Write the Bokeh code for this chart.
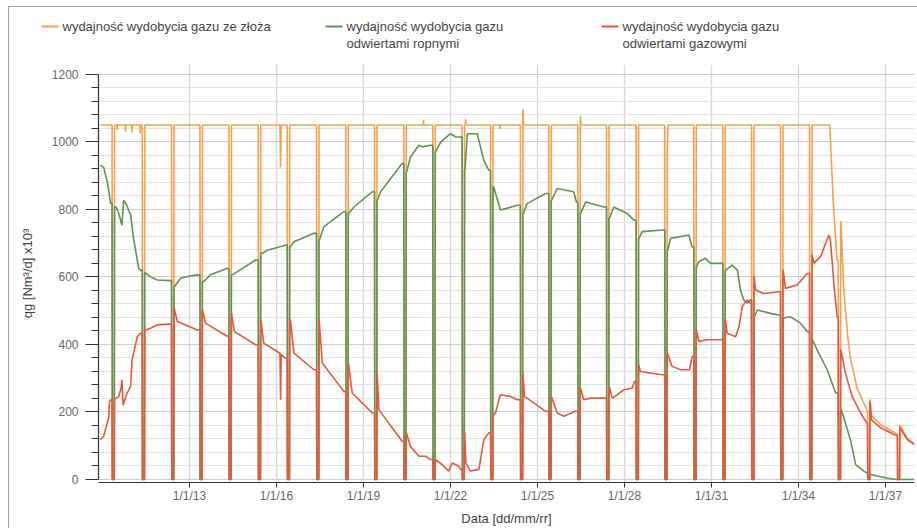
from bokeh.plotting import figure
from bokeh.models import FixedTicker, Range1d
from bokeh.layouts import column
from bokeh.core.properties import value
from bokeh.embed import file_html
from bokeh.resources import INLINE

# ---------------- data (years as decimal, values in Nm3/d x10^3) ----------------
shutdowns = [2010.33, 2011.37, 2012.38, 2013.36, 2014.36, 2015.37, 2016.37, 2017.38,
             2018.39, 2019.38, 2020.39, 2021.39, 2022.40, 2023.38, 2024.41, 2025.39,
             2026.39, 2027.38, 2028.40, 2029.39, 2030.39, 2031.39, 2032.38, 2033.38,
             2034.38, 2035.37, 2036.38, 2037.41]

orange_t = [2009.93, 2010.30,
            2010.45, 2010.50, 2010.51, 2010.52, 2010.78, 2010.79, 2010.80, 2011.01, 2011.02, 2011.03, 2011.29, 2011.30, 2011.31,
            2011.46, 2012.36, 2012.47, 2013.34, 2013.45, 2014.34, 2014.45, 2015.35,
            2015.46, 2016.12, 2016.14, 2016.16, 2016.35,
            2016.46, 2017.36, 2017.47, 2018.37, 2018.48, 2019.36, 2019.47, 2020.37,
            2020.48, 2021.06, 2021.07, 2021.08, 2021.37, 2021.48, 2022.38,
            2022.49, 2022.51, 2022.52, 2022.53, 2023.36,
            2023.47, 2023.70, 2023.71, 2023.72, 2024.39,
            2024.50, 2024.52, 2025.37, 2025.48, 2026.37, 2026.48, 2026.50, 2027.36,
            2027.47, 2028.38, 2028.49, 2029.37, 2029.48, 2029.50, 2030.37,
            2030.48, 2031.37, 2031.48, 2032.36, 2032.47, 2033.36, 2033.47, 2034.36,
            2034.47, 2035.08, 2035.20, 2035.33,
            2035.46, 2035.56, 2035.69, 2035.79, 2036.02, 2036.36,
            2036.47, 2036.51, 2036.83, 2037.29, 2037.39,
            2037.50, 2037.75, 2038.0]
orange_v = [1050, 1050,
            1050, 1050, 1035, 1050, 1050, 1030, 1050, 1050, 1028, 1050, 1050, 1025, 1050,
            1050, 1050, 1050, 1050, 1050, 1050, 1050, 1050,
            1050, 1050, 925, 1050, 1050,
            1050, 1050, 1050, 1050, 1050, 1050, 1050, 1050,
            1050, 1050, 1065, 1050, 1050, 1050, 1050,
            1050, 1050, 1068, 1050, 1050,
            1050, 1050, 1038, 1050, 1050,
            1095, 1050, 1050, 1050, 1050, 1075, 1050, 1050,
            1050, 1050, 1050, 1050, 985, 1050, 1050,
            1050, 1050, 1050, 1050, 1050, 1050, 1050, 1050,
            1050, 1050, 820, 650,
            765, 560, 430, 360, 270, 205,
            236, 190, 162, 140, 135,
            160, 122, 105]

green_t = [2009.93, 2010.04, 2010.17, 2010.28,
           2010.47, 2010.56, 2010.67, 2010.73, 2010.82, 2010.97, 2011.08, 2011.25, 2011.31,
           2011.48, 2011.66, 2011.89, 2012.32,
           2012.48, 2012.69, 2012.97, 2013.27,
           2013.49, 2013.72, 2014.28,
           2014.47, 2014.64, 2015.28,
           2015.51, 2015.68, 2016.31,
           2016.48, 2016.60, 2017.29,
           2017.48, 2017.63, 2018.32,
           2018.49, 2018.67, 2019.30,
           2019.48, 2019.59, 2020.33,
           2020.49, 2020.62, 2020.91, 2021.03, 2021.31,
           2021.49, 2021.66, 2022.00, 2022.17, 2022.34,
           2022.50, 2022.58, 2022.92, 2023.15, 2023.32,
           2023.49, 2023.72, 2024.30,
           2024.51, 2024.64, 2025.28,
           2025.49, 2025.68, 2026.25, 2026.34,
           2026.49, 2026.66, 2027.29,
           2027.48, 2027.63, 2028.09, 2028.32,
           2028.50, 2028.61, 2029.30,
           2029.49, 2029.59, 2030.22, 2030.33,
           2030.49, 2030.56, 2030.79, 2030.97, 2031.31,
           2031.49, 2031.71, 2031.89, 2032.00, 2032.11, 2032.23, 2032.34,
           2032.48, 2032.58, 2033.03, 2033.32,
           2033.49, 2033.72, 2034.07, 2034.30,
           2034.48, 2034.64, 2034.99, 2035.28,
           2035.47, 2035.62, 2035.79, 2035.97, 2036.25, 2036.34,
           2036.48, 2036.83, 2037.17, 2037.39,
           2037.51, 2038.0]
green_v = [930, 925, 880, 818,
           807, 788, 753, 827, 815, 783, 709, 625, 620,
           612, 600, 591, 589,
           571, 596, 602, 606,
           586, 606, 625,
           606, 615, 650,
           670, 679, 694,
           689, 704, 729,
           709, 748, 793,
           788, 807, 852,
           827, 852, 936,
           911, 955, 990, 985, 990,
           970, 999, 1024, 1015, 1014,
           916, 1024, 1024, 945, 916,
           866, 798, 812,
           788, 817, 847,
           827, 862, 852, 822,
           788, 822, 807,
           773, 807, 788, 768,
           714, 734, 739,
           679, 714, 724, 689,
           630, 645, 655, 640, 640,
           620, 635, 620, 561, 532, 522, 532,
           482, 502, 492, 487,
           478, 482, 463, 438,
           414, 384, 325, 256,
           207, 167, 118, 44, 25, 20,
           15, 8, 2, 0,
           0, 0]

red_t = [2009.93, 2010.04, 2010.14, 2010.22, 2010.24, 2010.28,
         2010.43, 2010.56, 2010.64, 2010.67, 2010.71, 2010.85, 2010.97, 2011.02, 2011.20, 2011.31,
         2011.48, 2011.66, 2011.89, 2012.32,
         2012.47, 2012.58, 2013.27,
         2013.45, 2013.55, 2014.28,
         2014.45, 2014.55, 2015.28,
         2015.46, 2015.56, 2016.12, 2016.14, 2016.16, 2016.31,
         2016.48, 2016.60, 2017.29,
         2017.47, 2017.58, 2018.32,
         2018.48, 2018.61, 2019.30,
         2019.47, 2019.53, 2020.33,
         2020.48, 2020.62, 2020.91, 2021.14, 2021.31,
         2021.48, 2021.71, 2021.94, 2022.06, 2022.29, 2022.34,
         2022.49, 2022.53, 2022.69, 2022.98, 2023.15, 2023.32,
         2023.49, 2023.55, 2023.72, 2024.07, 2024.30,
         2024.50, 2024.55, 2025.28,
         2025.48, 2025.68, 2025.91, 2026.31,
         2026.48, 2026.59, 2026.83, 2027.29,
         2027.47, 2027.58, 2027.75, 2027.98, 2028.27, 2028.34,
         2028.49, 2028.55, 2029.30,
         2029.48, 2029.64, 2029.93, 2030.24, 2030.33,
         2030.48, 2030.56, 2030.85, 2031.31,
         2031.48, 2031.54, 2031.83, 2031.95, 2032.06, 2032.23, 2032.34,
         2032.47, 2032.52, 2032.80, 2033.32,
         2033.47, 2033.55, 2033.95, 2034.30,
         2034.47, 2034.53, 2034.76, 2035.05, 2035.10, 2035.22, 2035.33,
         2035.46, 2035.62, 2035.85, 2036.14, 2036.36,
         2036.47, 2036.51, 2036.83, 2037.29, 2037.39,
         2037.50, 2037.75, 2038.0]
red_v = [118, 128, 160, 187, 230, 236,
         238, 246, 270, 295, 221, 256, 276, 354, 423, 433,
         443, 448, 458, 460,
         507, 468, 443,
         502, 463, 425,
         492, 438, 399,
         473, 404, 374, 236, 370, 359,
         473, 374, 325,
         473, 345, 261,
         345, 256, 197,
         315, 207, 113,
         138, 98, 69, 69, 59,
         59, 44, 25, 49, 39, 30,
         138, 49, 25, 30, 118, 138,
         192, 197, 251, 246, 236,
         315, 246, 202,
         246, 197, 187, 202,
         271, 236, 241, 241,
         276, 241, 251, 266, 271, 290,
         340, 320, 310,
         374, 335, 325, 325, 364,
         443, 409, 414, 414,
         473, 433, 423, 453, 512, 532, 522,
         601, 561, 551, 556,
         620, 566, 576, 610,
         665, 640, 660, 724, 709, 581, 482,
         384, 315, 246, 197, 167,
         231, 177, 153, 133, 130,
         153, 118, 103]

y_ticks = [0, 200, 400, 600, 800, 1000, 1200]
y_minor = [v for v in range(40, 1200, 40) if v % 200 != 0]
x_ticks = [2013, 2016, 2019, 2022, 2025, 2028, 2031, 2034, 2037]
x_tick_labels = ["1/1/13", "1/1/16", "1/1/19", "1/1/22", "1/1/25", "1/1/28", "1/1/31", "1/1/34", "1/1/37"]

series_names = ["wydajność wydobycia gazu ze złoża",
                "wydajność wydobycia gazu\nodwiertami ropnymi",
                "wydajność wydobycia gazu\nodwiertami gazowymi"]
colors = ["#F4A24A", "#5F9352", "#E4573F"]

FONT = "Liberation Sans"
W = 908
Y0, Y1 = -8.9, 1229.0


def with_shutdowns(ts, vs):
    """Insert the yearly shut-in periods (rate falls to zero) between operating points."""
    xs, ys = [], []
    k = 0
    for t, v in zip(ts, vs):
        while k < len(shutdowns) and shutdowns[k] < t:
            s = shutdowns[k]
            if xs:
                xs += [s, s + 0.01, s + 0.075]
                ys += [ys[-1], 0, 0]
                if t > s + 0.085:
                    xs.append(s + 0.085)
                    ys.append(v)
            k += 1
        xs.append(t)
        ys.append(v)
    return xs, ys


# ---------------- legend strip ----------------
lg = figure(width=W, height=57, x_range=Range1d(0, W), y_range=Range1d(57, 0),
            output_backend="svg", toolbar_location=None,
            x_axis_location=None, y_axis_location=None,
            min_border=0, min_border_left=0, min_border_right=0, min_border_top=0, min_border_bottom=0)
lg.grid.visible = False
lg.outline_line_color = None
lg.background_fill_color = "white"
lg.border_fill_color = "white"

swatch_x = [32, 316, 592]
for c, name, sx in zip(colors, series_names, swatch_x):
    lg.segment(x0=[sx], y0=[19], x1=[sx + 17], y1=[19], line_color=c, line_width=2)
    lines = name.split("\n")
    lg.text(x=[sx + 21] * len(lines), y=[19 + 17 * j for j in range(len(lines))], text=lines,
            text_font=value(FONT), text_font_size="13px", text_color="#444444",
            text_baseline="middle", text_align="left")

# ---------------- main chart ----------------
p = figure(width=W, height=464,
           x_range=Range1d(2009.862, 2038.0), y_range=Range1d(Y0, Y1),
           output_backend="svg", toolbar_location=None,
           min_border_left=89, min_border_right=3, min_border_top=0, min_border_bottom=45)
p.outline_line_color = None
p.background_fill_color = "white"
p.border_fill_color = "white"

for fig in (lg, p):
    if "frame_align" in fig.properties():
        fig.frame_align = False

for (ts, vs), c in zip([(orange_t, orange_v), (green_t, green_v), (red_t, red_v)], colors):
    xs, ys = with_shutdowns(ts, vs)
    p.line(xs, ys, line_color=c, line_width=1.6)

# axes
p.yaxis.ticker = FixedTicker(ticks=y_ticks, minor_ticks=y_minor)
p.yaxis.bounds = (0, 1200)
p.xaxis.ticker = FixedTicker(ticks=x_ticks, minor_ticks=[])
p.xaxis.major_label_overrides = {t: l for t, l in zip(x_ticks, x_tick_labels)}

for ax in (p.xaxis[0], p.yaxis[0]):
    ax.axis_line_color = "#333333"
    ax.axis_line_width = 1.2
    ax.major_tick_line_color = "#333333"
    ax.minor_tick_line_color = "#333333"
    ax.major_tick_in = 0
    ax.minor_tick_in = 0
    ax.major_label_text_color = "#666666"
    ax.major_label_text_font = FONT
    ax.axis_label_text_font = FONT
    ax.axis_label_text_font_style = "normal"
    ax.axis_label_text_color = "#444444"
    ax.axis_label_text_font_size = "13px"

p.yaxis.major_tick_out = 13
p.yaxis.minor_tick_out = 7
p.yaxis.major_label_text_font_size = "12px"
p.yaxis.major_label_standoff = 7
p.yaxis.axis_label = "qg [Nm³/d] x10³"
p.yaxis.axis_label_standoff = 14

p.xaxis.major_tick_out = 5
p.xaxis.major_label_text_font_size = "12px"
p.xaxis.major_label_standoff = 1
p.xaxis.axis_label = "Data [dd/mm/rr]"
p.xaxis.axis_label_standoff = 5

# grid
p.xgrid.ticker = p.xaxis[0].ticker
p.xgrid.grid_line_color = "#d6d6d6"
p.xgrid.grid_line_width = 1.3
p.ygrid.ticker = p.yaxis[0].ticker
p.ygrid.grid_line_color = "#cfcfcf"
p.ygrid.grid_line_width = 1.2
p.ygrid.minor_grid_line_color = "#e3e3e3"
p.ygrid.minor_grid_line_width = 1.2

page = column(lg, p, spacing=0,
              styles={"margin-left": "8px", "margin-top": "6px",
                      "border-left": "1px solid #a0a0a0", "border-top": "1px solid #a0a0a0"})

open("out.html", "w").write(file_html(page, INLINE))
